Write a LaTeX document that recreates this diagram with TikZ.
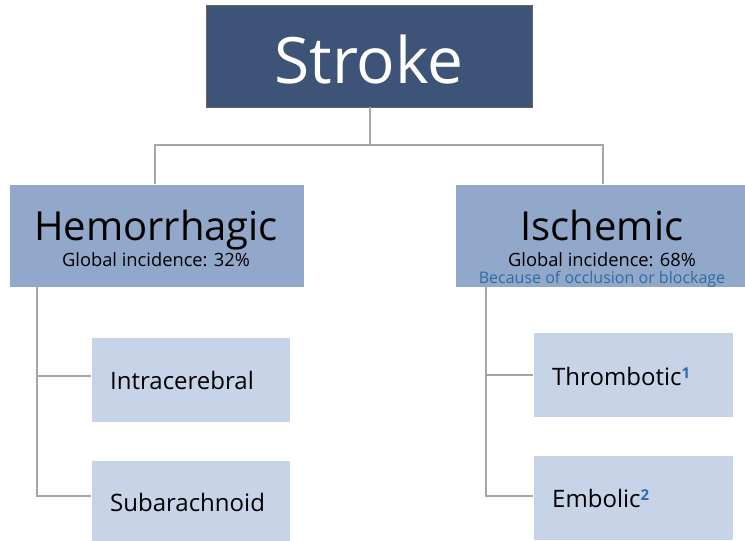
\documentclass[tikz,border=0pt]{standalone}
\usepackage{fontspec}
\setmainfont{Open Sans}
\definecolor{topfill}{HTML}{3E5378}
\definecolor{midfill}{HTML}{91A8CA}
\definecolor{lowfill}{HTML}{C7D3E7}
\definecolor{linegray}{HTML}{A6A6A6}
\definecolor{noteblue}{HTML}{2E6BA8}
\newcommand{\supnum}[1]{\raisebox{6.5pt}{\fontsize{15}{15}\selectfont\bfseries\color{noteblue}#1}}
\begin{document}
\begin{tikzpicture}[x=1pt,y=-1pt,
  topbox/.style={fill=topfill,draw=gray!80!black,line width=0.8pt},
  midbox/.style={fill=midfill,draw=white,line width=0.6pt},
  lowbox/.style={fill=lowfill,draw=white,line width=0.6pt},
  conn/.style={draw=linegray,line width=1.6pt},
  txt/.style={inner sep=0pt,anchor=base}]
\useasboundingbox (0,0) rectangle (745,541);
% boxes
\path[topbox] (206,5) rectangle (532,107);
\path[midbox] (9,184) rectangle (304,287);
\path[midbox] (455,184) rectangle (746,287);
\path[lowbox] (91,337) rectangle (290,422);
\path[lowbox] (91,460) rectangle (290,542);
\path[lowbox] (533,332) rectangle (733,417);
\path[lowbox] (533,455) rectangle (733,540);
% anchor coordinates
\coordinate (strokeB) at (370,107);
\coordinate (hemT) at (155,184);
\coordinate (ischT) at (603,184);
\coordinate (hemB) at (37,287);
\coordinate (ischB) at (486,287);
\coordinate (intraL) at (91,376);
\coordinate (subL) at (91,496);
\coordinate (thrL) at (533,375);
\coordinate (embL) at (533,496);
% connectors
\draw[conn] (strokeB) -- (370,145) -| (hemT);
\draw[conn] (370,145) -| (ischT);
\draw[conn] (hemB) |- (subL);
\draw[conn] (hemB |- intraL) -- (intraL);
\draw[conn] (ischB) |- (embL);
\draw[conn] (ischB |- thrL) -- (thrL);
% texts
\node[txt,text=white,font=\fontsize{64}{64}\selectfont] (stroke) at (369,83) {Stroke};
\node[txt,font=\fontsize{40}{40}\selectfont] (hem) at (156,240) {Hemorrhagic};
\node[txt,font=\fontsize{18.3}{18.3}\selectfont] (hemInc) at (156,266) {Global incidence: 32\%};
\node[txt,font=\fontsize{40}{40}\selectfont] (isch) at (602,240) {Ischemic};
\node[txt,font=\fontsize{18.3}{18.3}\selectfont] (ischInc) at (602,266) {Global incidence: 68\%};
\node[txt,text=noteblue,font=\fontsize{16}{16}\selectfont] (ischNote) at (602,283) {Because of occlusion or blockage};
\node[txt,anchor=base west,font=\fontsize{24}{24}\selectfont] (intra) at (110,389) {Intracerebral};
\node[txt,anchor=base west,font=\fontsize{24}{24}\selectfont] (sub) at (110,511) {Subarachnoid};
\node[txt,anchor=base west,font=\fontsize{24}{24}\selectfont] (thr) at (552,385) {Thrombotic\supnum{1}};
\node[txt,anchor=base west,font=\fontsize{24}{24}\selectfont] (emb) at (552,507) {Embolic\supnum{2}};
\end{tikzpicture}
\end{document}
